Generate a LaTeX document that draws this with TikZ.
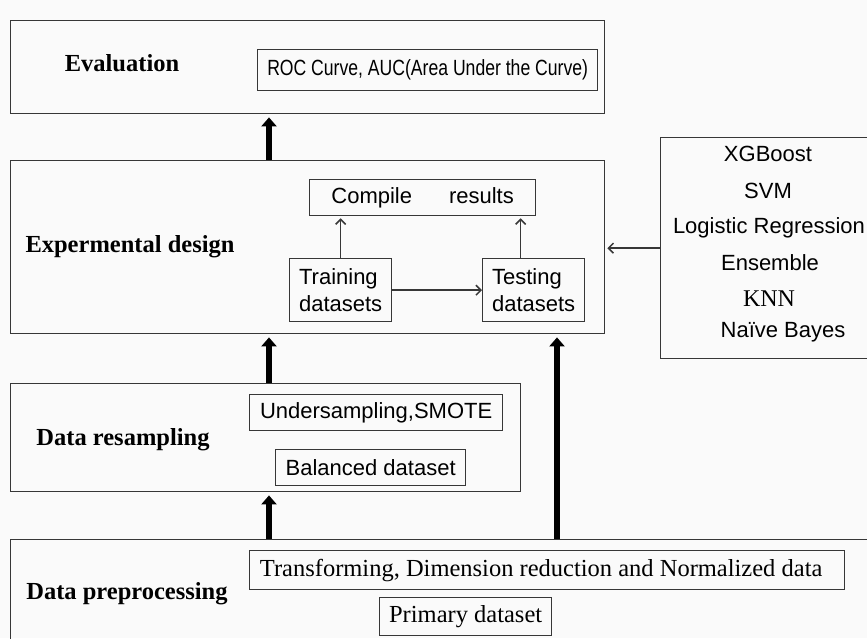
\documentclass[tikz,border=0pt]{standalone}
\usepackage{fontspec}
\setmainfont{Liberation Serif}
\setsansfont{Liberation Sans}
\usetikzlibrary{arrows.meta}
\definecolor{bgcol}{RGB}{250,250,250}
\definecolor{linecol}{RGB}{55,55,55}

\tikzset{
  stage/.style={draw=linecol, line width=1.4pt, anchor=north west, inner sep=0pt},
  item/.style={draw=linecol, line width=1.3pt, anchor=north west, inner sep=0pt,
    font=\sffamily\fontsize{22}{27}\selectfont},
  stagelabel/.style={font=\bfseries\fontsize{24.5}{27}\selectfont, text height=16pt, text depth=5pt},
  model/.style={font=\sffamily\fontsize{22}{26}\selectfont, text height=16pt, text depth=5pt},
  bigarrow/.style={line width=6pt, -{Triangle[width=15pt,length=9pt]}, shorten >=3pt},
  flow/.style={line width=1.5pt, draw=linecol, -{Straight Barb[length=5pt,width=10pt]}}
}

\begin{document}
\begin{tikzpicture}[x=1pt, y=-1pt]
    \useasboundingbox (0,0) rectangle (867,638);
    \fill[bgcol] (0,0) rectangle (867,638);
    \clip (0,0) rectangle (867,638);

    % Evaluation
    \node[stage, minimum width=594pt, minimum height=93pt] (evalbox) at (10,20) {};
    \node[stagelabel] (evallab) at (122,66) {Evaluation};
    \node[item, minimum width=340pt, minimum height=41pt] (roc) at (257,49) {\scalebox{0.8}[1]{ROC Curve, AUC(Area Under the Curve)}};

    % Experimental design
    \node[stage, minimum width=594pt, minimum height=173pt] (expbox) at (10,160) {};
    \node[stagelabel] (explab) at (130,247) {Expermental design};
    \node[item, minimum width=226pt, minimum height=36pt] (compile) at (309,179) {Compile\hspace{37pt}results};
    \node[item, minimum width=102pt, minimum height=63pt, align=left] (train) at (289,258) {Training\\datasets};
    \node[item, minimum width=102pt, minimum height=63pt, align=left] (test) at (482,258) {Testing\\datasets};

    % Classifiers
    \node[stage, minimum width=210pt, minimum height=221pt] (models) at (660,137) {};
    \node[model] (xgb) at (768,156) {XGBoost};
    \node[model] (svm) at (768,193) {SVM};
    \node[model] (logreg) at (769,228) {Logistic Regression};
    \node[model] (ens) at (770,265) {Ensemble};
    \node[model, font=\rmfamily\fontsize{24}{26}\selectfont] (knn) at (769,301) {KNN};
    \node[model] (nb) at (783,332) {Naïve Bayes};

    % Data resampling
    \node[stage, minimum width=510pt, minimum height=108pt] (resbox) at (10,383) {};
    \node[stagelabel] (reslab) at (123,440) {Data resampling};
    \node[item, minimum width=253pt, minimum height=36pt] (under) at (249,394) {Undersampling,SMOTE};
    \node[item, minimum width=190pt, minimum height=36pt] (balanced) at (275,449) {Balanced dataset};

    % Data preprocessing
    \node[stage, minimum width=870pt, minimum height=110pt] (prepbox) at (10,539) {};
    \node[stagelabel] (preplab) at (127,594) {Data preprocessing};
    \node[item, minimum width=595pt, minimum height=39pt, font=\rmfamily\fontsize{24.5}{28}\selectfont] (transf) at (249,550) {\hspace*{-12pt}Transforming, Dimension reduction and Normalized data};
    \node[item, minimum width=172pt, minimum height=38pt, font=\rmfamily\fontsize{24.5}{28}\selectfont] (primary) at (379,597) {Primary dataset};

    % Arrows
    \coordinate (spine) at (269,0);
    \coordinate (rail) at (557,0);
    \draw[bigarrow] (expbox.north -| spine) -- (evalbox.south -| spine);
    \draw[bigarrow] (resbox.north -| spine) -- (expbox.south -| spine);
    \draw[bigarrow] (prepbox.north -| spine) -- (resbox.south -| spine);
    \draw[bigarrow] (prepbox.north -| rail) -- (expbox.south -| rail);
    \draw[flow, shorten >=2pt] (train.north) -- (train.north |- compile.south);
    \draw[flow, shorten >=2pt] ([xshift=-13pt]test.north) -- ([xshift=-13pt]test.north |- compile.south);
    \draw[flow] (train.east) -- (test.west);
    \draw[flow, shorten >=2pt] (models.west) -- (models.west -| expbox.east);
\end{tikzpicture}
\end{document}
